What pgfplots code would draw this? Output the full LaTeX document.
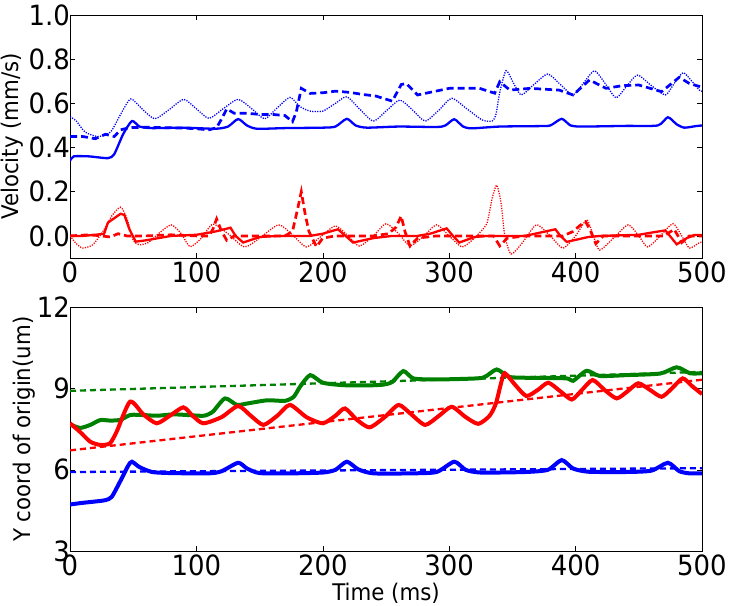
\documentclass[border=0pt]{standalone}
\usepackage{fontspec}
\setmainfont{DejaVu Sans}[FakeStretch=0.93]
\usepackage{pgfplots}
\pgfplotsset{compat=1.18}
\definecolor{mb}{rgb}{0,0,1}
\definecolor{mr}{rgb}{1,0,0}
\definecolor{mg}{rgb}{0,0.5,0}
\pgfplotsset{
  mystyle/.style={
    scale only axis, width=632bp,
    xmin=0, xmax=500,
    xtick={0,100,200,300,400,500},
    xticklabels={0,100,200,300,400,500},
    tick align=inside, major tick length=5bp,
    tick style={black, line width=0.6bp},
    axis line style={black, line width=0.8bp},
    xtick pos=both, ytick pos=both,
    xticklabel pos=left, yticklabel pos=left,
    tick label style={font=\fontsize{28}{30}\selectfont},
    xticklabel style={anchor=north, inner sep=0pt, yshift=-3.5bp},
    yticklabel style={anchor=east, inner sep=0pt, xshift=0bp},
    every axis x label/.style={at={(axis description cs:0.5,0)}, anchor=center, yshift=-42bp, font=\fontsize{23}{26}\selectfont},
  }
}
\begin{document}
\begin{tikzpicture}
\useasboundingbox (0,0) rectangle (730bp,606bp);
\begin{axis}[mystyle, at={(70bp,348bp)}, anchor=south west, height=243bp,
  ymin=-0.1, ymax=1.0,
  ytick={0,0.2,0.4,0.6,0.8,1.0},
  yticklabels={0.0,0.2,0.4,0.6,0.8,1.0},
  every axis y label/.style={at={(axis description cs:-0.091,0.5)}, rotate=90, anchor=center, font=\fontsize{23}{26}\selectfont},
  ylabel={Velocity (mm/s)}]
% blue dotted
\addplot[mb, line width=1.3bp, dash pattern=on 1.2bp off 1.3bp, smooth, tension=0.4] coordinates {
(0,0.54)(5,0.52)(12,0.47)(22,0.45)(32,0.47)(40,0.55)(48,0.62)(57,0.575)(67,0.53)(78,0.57)(90,0.618)(100,0.575)(110,0.532)(121,0.575)(133,0.618)(144,0.575)(154,0.53)(164,0.58)(174,0.627)(182,0.585)(190,0.565)(200,0.565)(210,0.6)(219,0.63)(229,0.575)(240,0.52)(251,0.57)(261,0.615)(271,0.57)(281,0.52)(292,0.57)(302,0.623)(314,0.575)(326,0.525)(334,0.52)(337,0.55)(340,0.65)(345,0.748)(351,0.69)(357,0.638)(367,0.685)(378,0.733)(388,0.685)(398,0.638)(406,0.69)(415,0.747)(424,0.685)(432,0.625)(440,0.675)(449,0.728)(460,0.68)(471,0.638)(478,0.69)(485,0.739)(492,0.7)(498,0.66)(500,0.655)};
% blue dashed
\addplot[mb, line width=2.7bp, dash pattern=on 7bp off 4bp] coordinates {
(0,0.45)(10,0.45)(20,0.44)(28,0.46)(35,0.45)(40,0.48)(47,0.49)(60,0.492)(75,0.49)(90,0.488)(100,0.485)(110,0.48)(116,0.49)(120,0.53)(124,0.575)(130,0.555)(140,0.555)(150,0.55)(160,0.55)(170,0.545)(176,0.517)(179,0.56)(183,0.668)(190,0.645)(200,0.648)(210,0.655)(221,0.65)(232,0.64)(242,0.633)(255,0.61)(262,0.685)(266,0.69)(275,0.638)(285,0.65)(300,0.668)(315,0.668)(324,0.668)(336,0.646)(340,0.698)(348,0.66)(364,0.668)(387,0.66)(398,0.638)(411,0.706)(424,0.668)(437,0.68)(450,0.683)(468,0.653)(482,0.718)(490,0.69)(500,0.673)};
% blue solid
\addplot[mb, line width=2.3bp, smooth, tension=0.4] coordinates {
(0,0.34)(3,0.36)(15,0.36)(30,0.352)(35,0.37)(42,0.46)(49,0.52)(55,0.495)(65,0.488)(90,0.49)(115,0.485)(125,0.495)(133,0.529)(140,0.5)(148,0.485)(170,0.488)(200,0.49)(210,0.495)(219,0.53)(226,0.5)(235,0.49)(260,0.495)(290,0.493)(297,0.5)(304,0.528)(311,0.495)(318,0.487)(340,0.495)(370,0.497)(380,0.5)(389,0.53)(396,0.5)(405,0.495)(440,0.498)(465,0.5)(473,0.537)(480,0.505)(486,0.49)(495,0.497)(500,0.5)};
% red dotted
\addplot[mr, line width=1.3bp, dash pattern=on 1.2bp off 1.3bp, smooth, tension=0.4] coordinates {
(0,0.0)(5,-0.035)(10,-0.055)(18,-0.04)(26,0.02)(33,0.09)(40,0.13)(45,0.08)(50,-0.02)(55,-0.04)(62,-0.03)(70,0.01)(80,0.05)(88,0.01)(95,-0.049)(104,-0.01)(113,0.053)(125,0.01)(138,-0.05)(150,-0.01)(165,0.05)(176,0.005)(187,-0.05)(198,-0.005)(210,0.045)(220,0.0)(229,-0.046)(240,0.0)(250,0.055)(260,0.01)(269,-0.045)(280,0.0)(290,0.05)(300,0.0)(310,-0.05)(318,-0.02)(325,0.02)(330,0.06)(334,0.17)(337.6,0.23)(341,0.15)(344,0.0)(349,-0.082)(358,-0.03)(369,0.05)(380,0.0)(390,-0.055)(400,0.0)(408.8,0.072)(414,0.0)(419,-0.064)(430,-0.01)(441.6,0.05)(450,0.0)(457,-0.05)(467,0.0)(477,0.055)(484,0.0)(490,-0.055)(498,-0.03)(500,-0.03)};
% red dashed
\addplot[mr, line width=2.7bp, dash pattern=on 7bp off 4bp] coordinates {
(0,0.0)(15,0.005)(25,0.0)(32,-0.005)(38,0.01)(45,0.0)(60,0.0)(80,0.005)(100,0.0)(110,0.0)(113,0.03)(116,0.077)(120,0.02)(124,-0.02)(130,0.0)(150,0.0)(170,0.0)(176,0.02)(180,0.12)(183,0.2)(186,0.1)(189,0.02)(195,-0.049)(200,-0.01)(210,0.0)(240,0.0)(252,0.01)(258,0.04)(262,0.09)(265,0.02)(269,-0.046)(275,-0.01)(290,0.0)(320,0.0)(335,0.0)(340,-0.045)(346,-0.01)(360,0.0)(390,0.0)(398,0.02)(404,0.05)(408,0.064)(412,0.02)(416,-0.035)(422,0.0)(450,0.0)(470,0.0)(478,0.03)(484,-0.03)(490,0.0)(500,0.0)};
% red solid
\addplot[mr, line width=2.3bp] coordinates {
(0,0)(10,0.0)(20,0.005)(27,0.01)(30,0.06)(35,0.08)(40,0.1)(43,0.095)(47,0.03)(52,-0.026)(60,-0.02)(80,0.0)(100,0.005)(115,0.02)(127,0.037)(131,0.0)(137,-0.03)(150,-0.005)(165,0.0)(190,0.0)(200,0.01)(212,0.03)(218,0.0)(224,-0.03)(240,-0.01)(255,0.0)(275,0.0)(285,0.01)(298,0.034)(303,0.0)(308,-0.03)(320,-0.005)(330,0.0)(360,0.0)(372,0.015)(384,0.03)(388,0.0)(393,-0.027)(410,-0.005)(420,0.0)(450,0.005)(460,0.015)(471,0.025)(476,-0.01)(480,-0.038)(488,-0.01)(494,0.004)(500,0.004)};
\end{axis}
\begin{axis}[mystyle, at={(70bp,55bp)}, anchor=south west, height=243.5bp,
  ymin=3, ymax=12,
  ytick={3,6,9,12},
  yticklabels={3,6,9,12},
  every axis y label/.style={at={(axis description cs:-0.0728,0.5)}, rotate=90, anchor=center, font=\fontsize{23}{26}\selectfont},
  ylabel={Y coord of origin(um)},
  xlabel={Time (ms)}]
\addplot[mg, line width=2.3bp, dash pattern=on 6bp off 4bp] coordinates {(0,8.92)(500,9.62)};
\addplot[mr, line width=2.3bp, dash pattern=on 6bp off 4bp] coordinates {(0,6.72)(500,9.33)};
\addplot[mb, line width=2.3bp, dash pattern=on 6bp off 4bp] coordinates {(0,5.92)(500,6.06)};
% blue solid
\addplot[mb, line width=4bp, smooth, tension=0.4] coordinates {
(0,4.72)(10,4.78)(20,4.83)(28,4.88)(33,5.0)(40,5.6)(46,6.15)(49,6.3)(55,6.1)(65,5.92)(80,5.88)(110,5.87)(120,5.95)(133,6.26)(140,6.05)(150,5.88)(175,5.87)(200,5.9)(210,6.0)(219,6.3)(228,6.02)(240,5.87)(270,5.87)(290,5.92)(304,6.3)(313,6.0)(325,5.9)(360,5.92)(378,6.0)(389,6.36)(398,6.05)(410,5.93)(440,5.92)(460,5.97)(473,6.26)(482,5.95)(490,5.87)(500,5.87)};
% green solid
\addplot[mg, line width=4bp, smooth, tension=0.4] coordinates {
(0,7.68)(8,7.55)(16,7.66)(24,7.84)(32,7.82)(40,7.85)(48,8.03)(60,8.02)(69,8.0)(82,8.05)(95,8.02)(106,8.0)(113,8.15)(122.6,8.64)(132,8.4)(140,8.45)(156,8.57)(170,8.55)(177,8.7)(182,9.07)(190,9.5)(200,9.22)(216,9.13)(235,9.12)(248,9.15)(255,9.25)(263.7,9.65)(271.6,9.38)(287,9.34)(310,9.36)(327,9.41)(337.6,9.71)(348,9.43)(370,9.4)(393,9.38)(398,9.29)(408.7,9.66)(419,9.47)(440,9.5)(467,9.56)(480,9.79)(490.5,9.57)(500,9.57)};
% red solid
\addplot[mr, line width=4bp, smooth, tension=0.4] coordinates {
(0,7.72)(8,7.4)(16,7.04)(24,6.92)(31.6,6.98)(37,7.42)(47.5,8.52)(58,8.05)(68.6,7.72)(79,8.0)(89.7,8.31)(97,8.0)(105.5,7.72)(120,7.95)(133,8.36)(143,8.0)(153,7.66)(164,8.0)(174,8.4)(187,7.95)(200,7.72)(210,8.0)(217.5,8.27)(227,7.85)(237,7.57)(249,7.95)(260,8.4)(270,8.05)(281,7.66)(292,8.0)(302,8.33)(313,7.95)(323,7.7)(332,8.0)(337,8.46)(341,9.2)(344,9.57)(352,9.15)(361,8.73)(370,8.95)(378.4,9.22)(388,8.9)(397,8.6)(405,8.95)(413.5,9.32)(423,8.95)(432.5,8.64)(441,8.9)(449.6,9.2)(459,8.95)(468,8.7)(476,9.0)(484.7,9.38)(492,9.1)(500,8.8)};
\end{axis}
\end{tikzpicture}
\end{document}
